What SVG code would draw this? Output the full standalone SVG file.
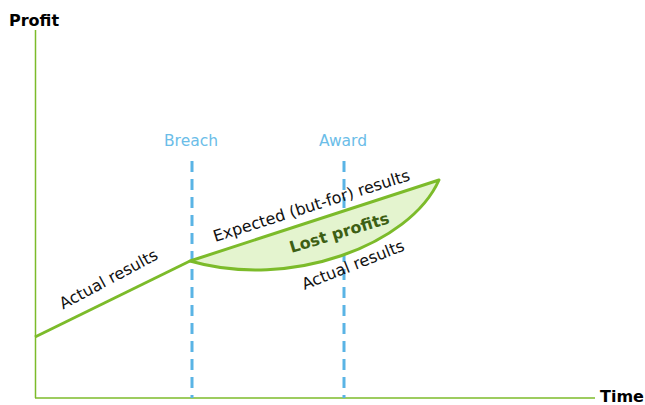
<svg xmlns="http://www.w3.org/2000/svg" width="645" height="405" viewBox="0 0 645 405">
<style>
.axis{stroke:#7cbb2a;stroke-width:1.5;fill:none}
.dash{stroke:#5ab4e5;stroke-width:3;stroke-dasharray:11 7;fill:none}
.line{stroke:#7cbb2a;stroke-width:3;fill:none;stroke-linejoin:round}
.lbl{font-family:"DejaVu Sans",Verdana,sans-serif;font-size:16px;fill:#111}
.ax{font-family:"DejaVu Sans",Verdana,sans-serif;font-size:16px;font-weight:bold;fill:#000}
.blue{font-family:"DejaVu Sans",Verdana,sans-serif;font-size:15.5px;fill:#6bbde8}
</style>
<rect width="645" height="405" fill="#fff"/>
<g id="axes">
<line class="axis" x1="35.5" y1="30" x2="35.5" y2="398"/>
<line class="axis" x1="35" y1="398" x2="595" y2="398"/>
<text class="ax" x="9" y="26">Profit</text>
<text class="ax" x="600" y="402">Time</text>
</g>
<g id="breach">
<line class="dash" x1="192" y1="161" x2="192" y2="398"/>
<text class="blue" x="191" y="146" text-anchor="middle">Breach</text>
</g>
<g id="award">
<line class="dash" x1="344" y1="161" x2="344" y2="398"/>
<text class="blue" x="343" y="146" text-anchor="middle">Award</text>
</g>
<g id="lost-profits">
<path d="M190,261 L439,180 C410,245 290,290 190,261 Z" fill="#e4f4cf" stroke="#7cbb2a" stroke-width="3" stroke-linejoin="round"/>
<text x="341" y="238" transform="rotate(-17 341 238)" text-anchor="middle" font-family="DejaVu Sans,Verdana,sans-serif" font-size="16" font-weight="bold" fill="#3d5f14">Lost profits</text>
</g>
<g id="connectors">
<line class="line" x1="35" y1="337" x2="190" y2="261"/>
</g>
<g id="labels">
<text class="lbl" x="111" y="284" transform="rotate(-28 111 284)" text-anchor="middle">Actual results</text>
<text class="lbl" x="313" y="211" transform="rotate(-17.6 313 211)" text-anchor="middle">Expected (but-for) results</text>
<text class="lbl" x="355" y="270" transform="rotate(-21.6 355 270)" text-anchor="middle">Actual results</text>
</g>
</svg>
